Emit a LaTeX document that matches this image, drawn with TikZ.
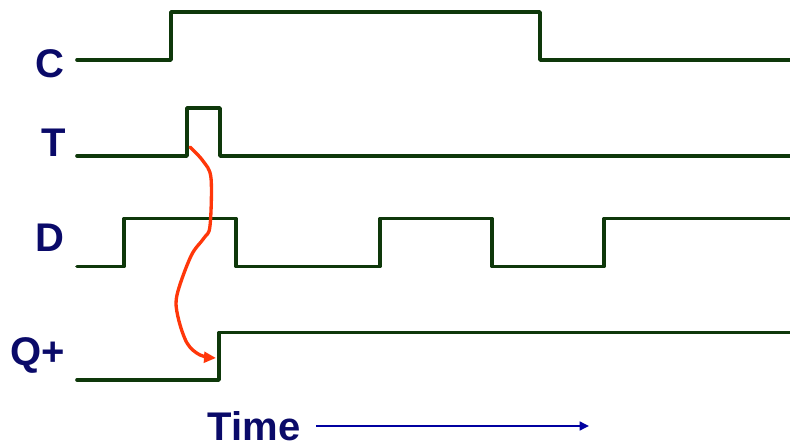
\documentclass[tikz,border=0pt]{standalone}
\usepackage{fontspec}
\setmainfont{Liberation Sans}
\usetikzlibrary{arrows.meta}
\definecolor{wave}{RGB}{14,56,10}
\definecolor{labnavy}{RGB}{10,10,105}
\definecolor{timeblue}{RGB}{0,0,160}
\definecolor{causal}{RGB}{255,55,10}
\tikzset{
  signal/.style={draw=wave, line width=2.7pt, line join=round, line cap=round},
  siglabel/.style={text=labnavy, font=\fontsize{30}{30}\selectfont\bfseries, inner sep=0pt, anchor=base},
}
\begin{document}
\begin{tikzpicture}[x=0.75pt, y=-0.75pt]
\useasboundingbox (0,0) rectangle (790,448);
% labels
\node[siglabel] (lC) at (50,78) {C};
\node[siglabel] (lT) at (54,157) {T};
\node[siglabel] (lD) at (50,252) {D};
\node[siglabel] (lQ) at (38,366) {Q+};
\node[siglabel] (lTime) at (254,441) {Time};
% waveforms
\draw[signal] (77,60) -- (171,60) -- (171,12) -- (540,12) -- (540,60) -- (790,60);
\draw[signal] (77,156) -- (187,156) -- (187,108) -- (220,108) -- (220,156) -- (790,156);
\draw[signal] (77,266.5) -- (124,266.5) -- (124,218.5) -- (236,218.5) -- (236,266.5) -- (380,266.5) -- (380,218.5) -- (492,218.5) -- (492,266.5) -- (604,266.5) -- (604,218.5) -- (790,218.5);
\draw[signal] (77,380) -- (219,380) -- (219,332.5) -- (790,332.5);
% causality arrow
\coordinate (tEdge) at (190,147);
\coordinate (qEdge) at (216,358);
\draw[causal, line width=2.5pt, line cap=round, line join=round, -{Triangle[length=9pt,width=8pt]}]
  plot[smooth, tension=0.55] coordinates {(tEdge) (203,161) (211,178) (210,226) (204,238) (191,256) (177,295) (178,317) (187,343) (200,355) (qEdge)};
% time arrow
\coordinate (tStart) at (316,426);
\coordinate (tEnd) at (589,426);
\draw[timeblue, line width=2pt, -{Triangle[length=7pt,width=6.5pt]}] (tStart) -- (tEnd);
\end{tikzpicture}
\end{document}
